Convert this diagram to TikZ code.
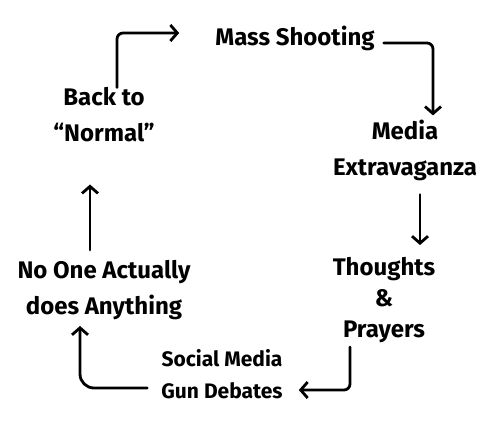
\documentclass[tikz,border=0pt]{standalone}
\usepackage{fontspec}
\setmainfont{Fira Sans}
\usetikzlibrary{arrows.meta}
\begin{document}
\begin{tikzpicture}[x=1pt, y=-1pt, line join=round,
    stage/.style={align=center, inner sep=2pt, font=\bfseries\fontsize{24}{36}\selectfont},
    small stage/.style={align=center, inner sep=2pt, font=\bfseries\fontsize{21}{32}\selectfont},
    flow/.style={line width=2.8pt, line cap=round, rounded corners=6pt,
        -{Straight Barb[length=7pt, width=16pt, line width=2.8pt]}}]
    % Frame of the page
    \useasboundingbox (0,0) rectangle (500,420);

    % Stages of the cycle
    \node[stage] (mass) at (295,38) {Mass Shooting};
    \node[stage] (media) at (405,150) {Media\\Extravaganza};
    \node[stage] (prayers) at (384,300) {Thoughts\\[-5pt]\&\\[-5pt]Prayers};
    \node[small stage] (debates) at (222,374) {Social Media\\Gun Debates};
    \node[stage] (nothing) at (104,290) {No One Actually\\does Anything};
    \node[stage] (normal) at (104,115) {Back to\\``Normal''};

    % Arrows round the cycle
    \draw[flow] ([xshift=13pt, yshift=-2pt]normal.north) |- ([xshift=-34pt, yshift=5pt]mass.west);
    \draw[flow] ([xshift=7pt, yshift=-5pt]mass.east) -| ([xshift=28pt, yshift=2pt]media.north);
    \draw[flow] ([xshift=15pt, yshift=-12pt]media.south) -- ([xshift=15pt, yshift=10pt]media.south |- prayers.north);
    \draw[flow] ([xshift=-34pt, yshift=-2pt]prayers.south) |- ([xshift=14pt, yshift=-16pt]debates.east);
    \draw[flow, rounded corners=14pt] ([xshift=-12pt, yshift=-14pt]debates.west) -| ([xshift=-24pt, yshift=-4pt]nothing.south);
    \draw[flow] ([xshift=-14pt, yshift=8pt]nothing.north) -- ([xshift=-14pt, yshift=-40pt]normal.south);
\end{tikzpicture}
\end{document}
